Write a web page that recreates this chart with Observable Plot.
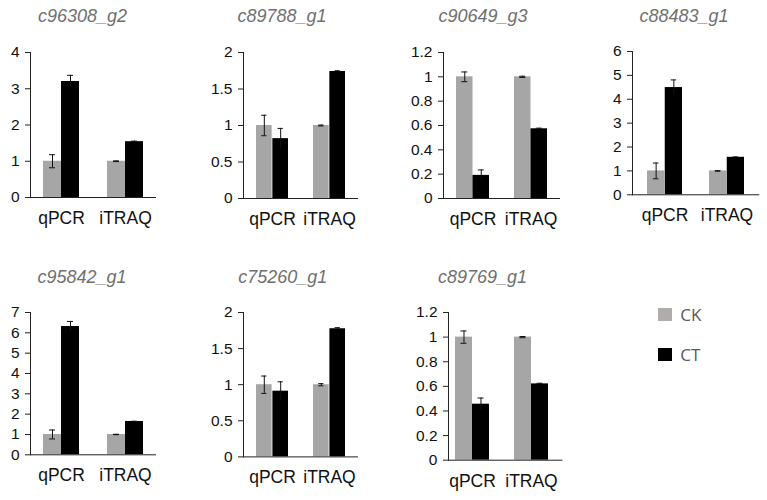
<!DOCTYPE html>
<html>
<head>
<meta charset="utf-8">
<script src="https://cdn.jsdelivr.net/npm/d3@7"></script>
<script src="https://cdn.jsdelivr.net/npm/@observablehq/plot@0.6"></script>
<style>
  body { margin: 0; background: #fff; }
  #root { position: relative; width: 767px; height: 500px; overflow: hidden; background: #fff; font-family: "Liberation Sans", Arial, sans-serif; }
  .panel { position: absolute; }
  .title { position: absolute; width: 200px; text-align: center; font-style: italic; font-size: 18px; line-height: 18px; color: #707070; white-space: nowrap; }
  .leg { position: absolute; font-family: "Open Sans", sans-serif; font-size: 17px; line-height: 17px; color: #595959; }
  .sw { position: absolute; width: 14px; height: 13px; }
</style>
</head>
<body>
<div id="root"></div>
<script>
// ---- data ----
const genes = ["c96308_g2", "c89788_g1", "c90649_g3", "c88483_g1", "c95842_g1", "c75260_g1", "c89769_g1"];
const methods = ["qPCR", "iTRAQ"];
const seriesNames = ["CK", "CT"];
const ckQpcr = [1, 1, 1, 1, 1, 1, 1];
const ckQpcrErr = [0.18, 0.14, 0.04, 0.33, 0.22, 0.12, 0.05];
const ckItraq = [1, 1, 1, 1, 1, 1, 1];
const ckItraqErr = [0.01, 0.006, 0.005, 0.012, 0.01, 0.015, 0.005];
const ctQpcr = [3.2, 0.82, 0.19, 4.49, 6.31, 0.91, 0.455];
const ctQpcrErr = [0.17, 0.14, 0.045, 0.32, 0.25, 0.13, 0.05];
const ctItraq = [1.54, 1.74, 0.573, 1.57, 1.64, 1.775, 0.62];
const ctItraqErr = [0.015, 0.01, 0.005, 0.015, 0.01, 0.015, 0.005];
const yMax = [4, 2, 1.2, 6, 7, 2, 1.2];
const yTicks = [
  [0, 1, 2, 3, 4],
  [0, 0.5, 1, 1.5, 2],
  [0, 0.2, 0.4, 0.6, 0.8, 1, 1.2],
  [0, 1, 2, 3, 4, 5, 6],
  [0, 1, 2, 3, 4, 5, 6, 7],
  [0, 0.5, 1, 1.5, 2],
  [0, 0.2, 0.4, 0.6, 0.8, 1, 1.2]
];
const colors = ["#a6a6a6", "#000000"];

// ---- layout (pixels) ----
const layout = [
  {ax: 30,    W: 125,   top: 52,    y0: 197,   L: 13,   G: 36,   M: 28,   tx: 82.5,  tb: 21.7},
  {ax: 243,   W: 114,   top: 52,    y0: 198,   L: 12.7, G: 32.7, M: 25,   tx: 282,   tb: 21.7},
  {ax: 443,   W: 116,   top: 52,    y0: 198,   L: 13,   G: 33,   M: 25,   tx: 483,   tb: 21.7},
  {ax: 631.7, W: 126.3, top: 50.7,  y0: 194,   L: 14.3, G: 35.5, M: 27.3, tx: 684,   tb: 21.7},
  {ax: 30,    W: 125,   top: 311.7, y0: 454,   L: 13,   G: 36,   M: 28,   tx: 82,    tb: 283},
  {ax: 243.3, W: 114,   top: 312.3, y0: 456.7, L: 12.4, G: 32.8, M: 25,   tx: 282.7, tb: 283},
  {ax: 448.3, W: 113.4, top: 312.3, y0: 460,   L: 7,    G: 34,   M: 25.7, tx: 482.5, tb: 283}
];

const root = document.getElementById("root");
const mL = 45, mR = 6, mT = 10, mB = 40;

genes.forEach((g, i) => {
  const lo = layout[i];
  const rows = [
    {method: methods[0], series: seriesNames[0], v: ckQpcr[i], e: ckQpcrErr[i]},
    {method: methods[1], series: seriesNames[0], v: ckItraq[i], e: ckItraqErr[i]},
    {method: methods[0], series: seriesNames[1], v: ctQpcr[i], e: ctQpcrErr[i]},
    {method: methods[1], series: seriesNames[1], v: ctItraq[i], e: ctItraqErr[i]}
  ];
  const ck = rows.filter(d => d.series === "CK");
  const ct = rows.filter(d => d.series === "CT");
  const step = lo.G + lo.M;
  const outer = lo.W - 2 * lo.G - lo.M;
  const half = lo.G / 2;
  const cap = 3;
  const plotH = lo.y0 - lo.top;
  const chart = Plot.plot({
    width: mL + lo.W + mR,
    height: mT + plotH + mB,
    marginLeft: mL, marginRight: mR, marginTop: mT, marginBottom: mB,
    style: {fontFamily: "'Liberation Sans', Arial, sans-serif", color: "#111", background: "transparent"},
    x: {domain: methods, paddingInner: lo.M / step, paddingOuter: outer / 2 / step, align: lo.L / outer, label: null},
    y: {domain: [0, yMax[i]], label: null},
    marks: [
      Plot.barY(ck, {x: "method", y: "v", fill: colors[0], insetLeft: 0, insetRight: half}),
      Plot.barY(ct, {x: "method", y: "v", fill: colors[1], insetLeft: half, insetRight: 0}),
      Plot.ruleX(ck, {x: "method", y1: d => d.v - d.e, y2: d => d.v + d.e, dx: -half / 2, stroke: "#111", strokeWidth: 1}),
      Plot.ruleX(ct, {x: "method", y1: d => d.v - d.e, y2: d => d.v + d.e, dx: half / 2, stroke: "#111", strokeWidth: 1}),
      Plot.tickY(ck, {x: "method", y: d => d.v + d.e, insetLeft: half / 2 - cap, insetRight: lo.G - half / 2 - cap, stroke: "#111", strokeWidth: 1}),
      Plot.tickY(ck, {x: "method", y: d => d.v - d.e, insetLeft: half / 2 - cap, insetRight: lo.G - half / 2 - cap, stroke: "#111", strokeWidth: 1}),
      Plot.tickY(ct, {x: "method", y: d => d.v + d.e, insetLeft: 1.5 * half - cap, insetRight: half / 2 - cap, stroke: "#111", strokeWidth: 1}),
      Plot.frame({anchor: "left", stroke: "#222"}),
      Plot.frame({anchor: "bottom", stroke: "#222"}),
      Plot.axisY({ticks: yTicks[i], tickFormat: d => String(d), tickSize: 5, tickPadding: 6, fontSize: 15.5, stroke: "#222", fill: "#111"}),
      Plot.axisX({tickSize: 0, tickPadding: 14, fontSize: 17.5, fill: "#111"})
    ]
  });
  chart.classList.add("panel");
  chart.style.left = (lo.ax - mL) + "px";
  chart.style.top = (lo.top - mT) + "px";
  root.appendChild(chart);

  const t = document.createElement("div");
  t.className = "title";
  t.textContent = g;
  t.style.left = (lo.tx - 100) + "px";
  t.style.top = (lo.tb - 15.2) + "px";
  root.appendChild(t);
});

// legend
const legendPos = [{x: 657.7, y: 307.7}, {x: 657.7, y: 347.7}];
seriesNames.forEach((s, k) => {
  const sw = document.createElement("div");
  sw.className = "sw";
  sw.style.left = legendPos[k].x + "px";
  sw.style.top = legendPos[k].y + "px";
  sw.style.background = k === 0 ? "#b0acac" : "#000";
  root.appendChild(sw);
  const lb = document.createElement("div");
  lb.className = "leg";
  lb.textContent = s;
  lb.style.left = (legendPos[k].x + 22.5) + "px";
  lb.style.top = (legendPos[k].y - 2) + "px";
  root.appendChild(lb);
});
</script>
</body>
</html>
